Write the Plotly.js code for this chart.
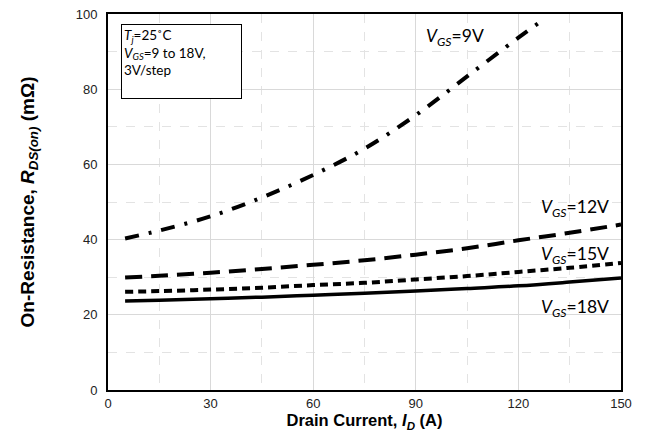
<!DOCTYPE html>
<html>
<head>
<meta charset="utf-8">
<script src="https://cdn.plot.ly/plotly-3.0.1.min.js"></script>
<style>html,body{margin:0;padding:0;background:#fff;}#chart{width:651px;height:448px;}</style>
</head>
<body>
<div id="chart"></div>
<script>
// Drain current (A)
const id9  = [5, 15, 30, 45, 60, 75, 90, 105, 120, 128];
const r9   = [40.3, 42.4, 46.2, 51.2, 57.2, 64.2, 73.1, 83.4, 93.7, 99.0];
const idAll = [5, 15, 30, 45, 60, 75, 90, 105, 120, 135, 150];
const r12  = [29.9, 30.4, 31.2, 32.2, 33.3, 34.5, 36.0, 37.7, 39.8, 41.8, 44.0];
const r15  = [26.1, 26.3, 26.7, 27.2, 27.9, 28.5, 29.4, 30.3, 31.4, 32.5, 33.8];
const r18  = [23.7, 23.9, 24.3, 24.7, 25.2, 25.7, 26.3, 27.0, 27.7, 28.7, 29.8];
const xTicks = [0, 30, 60, 90, 120, 150];
const yTicks = [0, 20, 40, 60, 80, 100];
const seriesLabels = ['9V', '12V', '15V', '18V'];

const data = [
  {x: id9, y: r9, mode: 'lines', line: {color: '#000', width: 4, dash: '14px,10px,3px,10px', shape: 'spline'}},
  {x: idAll, y: r12, mode: 'lines', line: {color: '#000', width: 4, dash: '17px,9px', shape: 'spline'}},
  {x: idAll, y: r15, mode: 'lines', line: {color: '#000', width: 4, dash: '8px,5px', shape: 'spline'}},
  {x: idAll, y: r18, mode: 'lines', line: {color: '#000', width: 3.5, shape: 'spline'}}
];

const arial = 'Liberation Sans, Arial, sans-serif';
const lblFont = {family: 'Lato, sans-serif', size: 17.5, color: '#000'};
const vgs = v => '<i>V</i><sub><i>GS</i></sub>=' + v;

const layout = {
  width: 651, height: 448,
  margin: {l: 108, r: 30, t: 14, b: 58},
  paper_bgcolor: '#fff', plot_bgcolor: '#fff',
  showlegend: false,
  xaxis: {
    range: [0, 150], tickvals: xTicks, ticktext: xTicks.map(String),
    showline: true, mirror: true, linecolor: '#000', linewidth: 2,
    showgrid: true, gridcolor: '#d9d9d9', gridwidth: 1,
    minor: {dtick: 15, showgrid: true, gridcolor: '#e3e3e3', griddash: 'dash', gridwidth: 1},
    ticks: '', zeroline: false,
    tickfont: {family: arial, size: 13, color: '#222'},
    title: {text: '<b>Drain Current, <i>I</i><sub><i>D</i></sub> (A)</b>', standoff: 5,
            font: {family: arial, size: 16.5, color: '#000'}}
  },
  yaxis: {
    range: [0, 100], tickvals: yTicks, ticktext: yTicks.map(String),
    showline: true, mirror: true, linecolor: '#000', linewidth: 2,
    showgrid: true, gridcolor: '#d9d9d9', gridwidth: 1,
    minor: {dtick: 10, showgrid: true, gridcolor: '#e3e3e3', griddash: 'dash', gridwidth: 1},
    ticks: '', zeroline: false, ticklabelstandoff: 6,
    tickfont: {family: arial, size: 13, color: '#222'},
    title: {text: '<b>On-Resistance, <i>R</i><sub><i>DS(on)</i></sub> (mΩ)</b>', standoff: 36,
            font: {family: arial, size: 19, color: '#000'}}
  },
  annotations: [
    {x: 110.5, y: 94, xref: 'x', yref: 'y', xanchor: 'right', yanchor: 'middle', showarrow: false, text: vgs(seriesLabels[0]), font: lblFont},
    {x: 147, y: 48.4, xref: 'x', yref: 'y', xanchor: 'right', yanchor: 'middle', showarrow: false, text: vgs(seriesLabels[1]), font: lblFont},
    {x: 147, y: 36, xref: 'x', yref: 'y', xanchor: 'right', yanchor: 'middle', showarrow: false, text: vgs(seriesLabels[2]), font: lblFont},
    {x: 147, y: 21.8, xref: 'x', yref: 'y', xanchor: 'right', yanchor: 'middle', showarrow: false, text: vgs(seriesLabels[3]), font: lblFont},
    {x: 3.8, y: 97.3, xref: 'x', yref: 'y', xanchor: 'left', yanchor: 'top', showarrow: false,
     align: 'left', valign: 'top', width: 115, height: 69, borderpad: 2,
     bordercolor: '#000', borderwidth: 1, bgcolor: '#fff',
     text: '<i>T</i><sub><i>j</i></sub>=25˚C<br><i>V</i><sub><i>GS</i></sub>=9 to 18V,<br>3V/step',
     font: {family: 'Lato, sans-serif', size: 13.5, color: '#000'}}
  ]
};

Plotly.newPlot('chart', data, layout, {staticPlot: true, displayModeBar: false});
</script>
</body>
</html>
